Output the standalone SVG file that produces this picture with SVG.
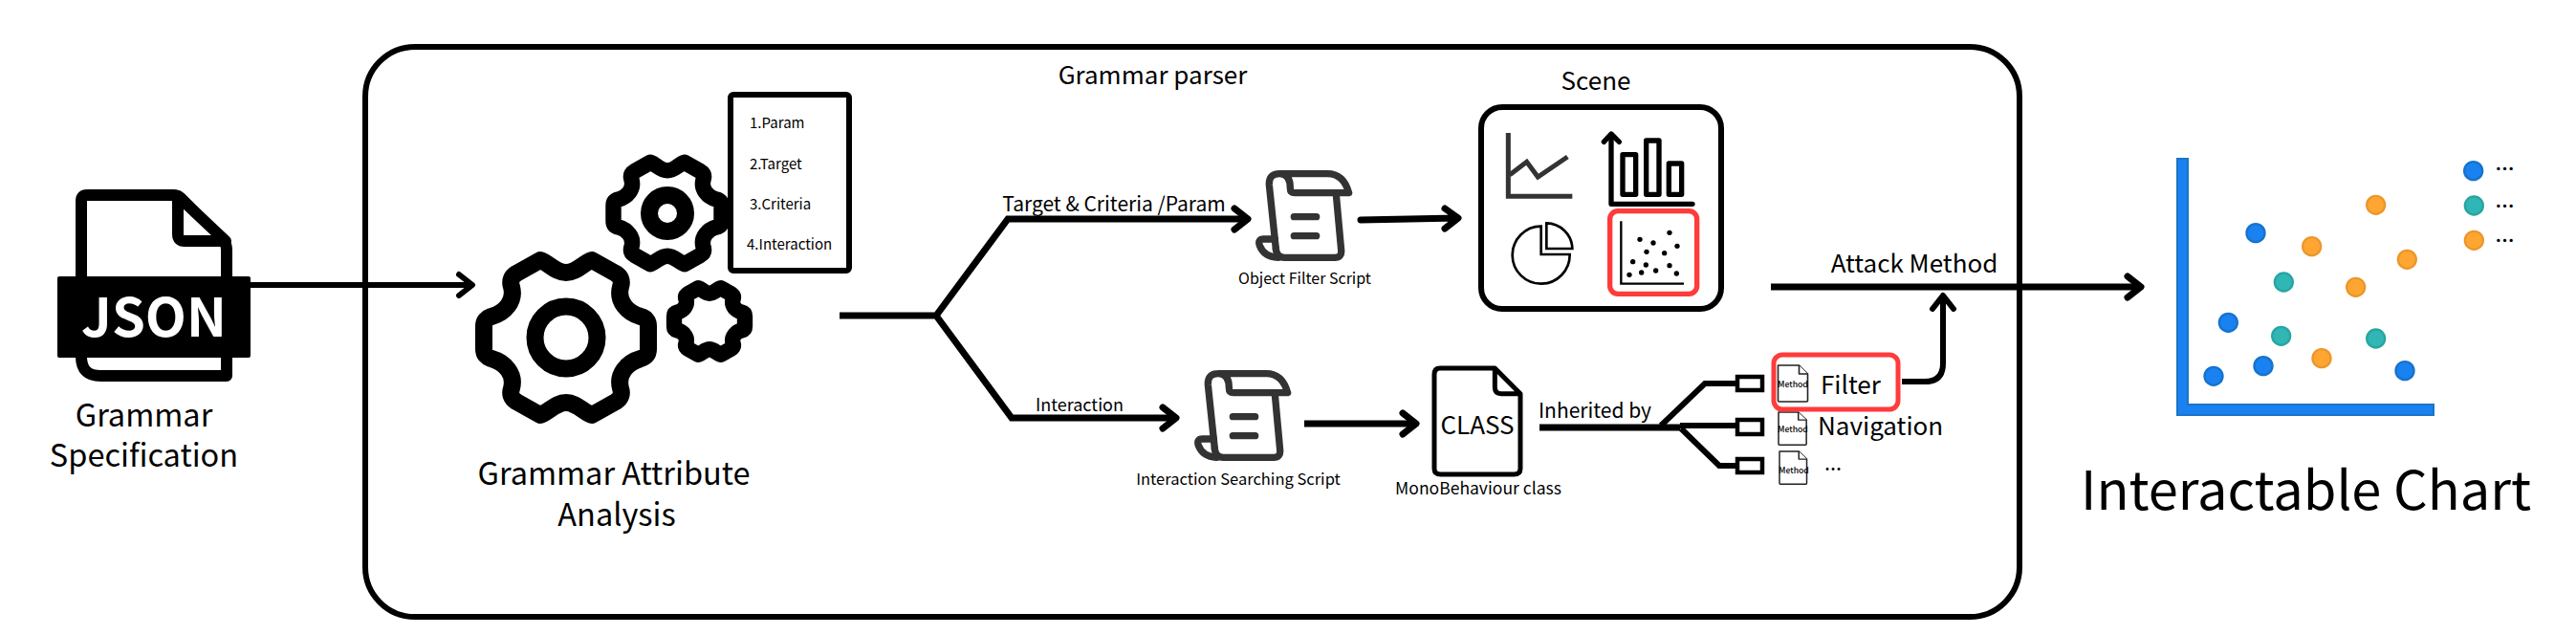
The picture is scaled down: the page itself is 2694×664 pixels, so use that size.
<svg xmlns="http://www.w3.org/2000/svg" xmlns:xlink="http://www.w3.org/1999/xlink" width="2694" height="664" viewBox="0 0 2694 664">
<style>
text{font-family:"Noto Sans CJK SC","Noto Sans",sans-serif;fill:#000}
.c{text-anchor:middle}
.ln{fill:none;stroke:#000;stroke-linecap:butt;stroke-linejoin:miter}
.head{fill:none;stroke:#000;stroke-linecap:round;stroke-linejoin:round}
.gear{fill:none;stroke:#000;stroke-linejoin:round}
.scr{fill:none;stroke:#333;stroke-width:22;stroke-linecap:round;stroke-linejoin:round}
.meth{fill:#fff;stroke:#222;stroke-width:1.6;stroke-linejoin:round}
.mt{font-size:8.600px;font-weight:500;text-anchor:middle}
.stub{fill:#fff;stroke:#000;stroke-width:4.500}
.red{fill:none;stroke:#ff3b3b}
.b{fill:#1a81f0;stroke:#1673cc}
.t{fill:#30b6b4;stroke:#28a5a0}
.o{fill:#ffa632;stroke:#ec962c}
</style>
<defs>
<path id="gearShape" d="M0,-68 C11,-68 18,-78 27,-81 L52,-67 Q60,-62 57,-53 C53,-38 64,-26 78,-22 Q86,-20 86,-12 L86,12 Q86,20 78,22 C64,26 53,38 57,53 Q60,62 52,67 L27,81 C18,78 11,68 0,68 C-11,68 -18,78 -27,81 L-52,67 Q-60,62 -57,53 C-53,38 -64,26 -78,22 Q-86,20 -86,12 L-86,-12 Q-86,-20 -78,-22 C-64,-26 -53,-38 -57,-53 Q-60,-62 -52,-67 L-27,-81 C-18,-78 -11,-68 0,-68Z"/>
<g id="scroll" class="scr">
<path d="M1003,600 L982,400 Q980,365 1015,365 L1165,365 Q1215,365 1232,425 L1062,425 Q1048,425 1048,410 Q1048,365 1015,365"/>
<path d="M1192,430 L1208,605 Q1210,628 1188,628 L1030,628 Q1005,628 1003,600"/>
<path d="M1000,570 L965,570 Q945,570 952,590 Q965,625 1010,628"/>
<path d="M1060,500 H1130 M1060,560 H1130"/>
</g>
<g id="method">
<path class="meth" d="M0,0 H22 L31,9 V37 Q31,38 30,38 H1 Q0,38 0,37Z"/>
<path class="meth" fill="none" d="M22,0 V9 H31"/>
</g>
</defs>
<rect width="2694" height="664" fill="#fff"/>
<g id="grammar-parser">
<rect x="382" y="49" width="1730" height="596" rx="52" fill="none" stroke="#000" stroke-width="6"/>
<text x="1205.500" y="88" class="c" font-size="26">Grammar parser</text>
</g>
<g id="connectors">
<path class="ln" stroke-width="6" d="M262,298 H493"/>
<path class="head" stroke-width="6" d="M480,287 L494,298 L480,309"/>
<path class="ln" stroke-width="7" d="M878,330 H979 L1054,229 H1304 M979,330 L1058,437 H1229"/>
<path class="head" stroke-width="7" d="M1291,218 L1305,229 L1291,240"/>
<path class="head" stroke-width="7" d="M1216,426 L1230,437 L1216,448"/>
<path class="head" stroke-width="7" d="M1423,230 L1524,228 M1511,218 L1525,228 L1511,239"/>
<path class="ln" stroke-width="7" d="M1364,443 H1480"/>
<path class="head" stroke-width="7" d="M1467,432 L1481,443 L1467,454"/>
<path class="ln" stroke-width="7" d="M1610,447 H1757"/>
<path class="ln" stroke-width="6" d="M1737,445 L1783,401 H1817 M1757,445 H1817 M1758,448 L1798,487 H1817"/>
<path class="ln" stroke-width="6" d="M1989,399 H2013 Q2032,399 2032,380 V312"/>
<path class="head" stroke-width="6" d="M2021,323 L2032,309 L2043,323"/>
<path class="ln" stroke-width="7" d="M1852,300 H2238"/>
<path class="head" stroke-width="7" d="M2225,289 L2239,300 L2225,311"/>
</g>
<g id="json-node">
<path d="M91,204 H181 Q186,204 189,207 L233,251 Q237,255 237,261 V393 H105 Q85,393 85,373 V210 Q85,204 91,204Z" fill="#fff" stroke="#000" stroke-width="12" stroke-linejoin="round"/>
<path d="M186,205 V245 Q186,252 193,252 H236 Z" fill="#fff" stroke="#000" stroke-width="12" stroke-linejoin="round"/>
<rect x="60" y="289" width="202" height="85" rx="2" fill="#000"/>
<text x="161" y="352" class="c" font-size="56" font-weight="700" style="fill:#fff">JSON</text>
<text x="150.500" y="446" class="c" font-size="32.500">Grammar</text>
<text x="150.500" y="488" class="c" font-size="32.500">Specification</text>
</g>
<g id="attribute-analysis">
<use xlink:href="#gearShape" href="#gearShape" transform="translate(592,353)" class="gear" stroke-width="18"/>
<circle cx="592" cy="353" r="32.500" fill="none" stroke="#000" stroke-width="18"/>
<use xlink:href="#gearShape" href="#gearShape" transform="translate(698,223) scale(.657)" class="gear" stroke-width="25"/>
<circle cx="698" cy="223" r="19" fill="none" stroke="#000" stroke-width="18"/>
<use xlink:href="#gearShape" href="#gearShape" transform="translate(742,336) scale(.43)" class="gear" stroke-width="38"/>
<text x="642" y="507" class="c" font-size="32.500">Grammar Attribute</text>
<text x="645" y="550" class="c" font-size="32.500">Analysis</text>
</g>
<g id="attribute-list">
<rect x="764" y="99" width="124" height="184" rx="3" fill="#fff" stroke="#000" stroke-width="6"/>
<text x="784" y="134" font-size="15">1.Param</text>
<text x="784" y="177" font-size="15">2.Target</text>
<text x="784" y="219" font-size="15">3.Criteria</text>
<text x="781" y="261" font-size="15">4.Interaction</text>
</g>
<g id="edge-labels">
<text x="1165" y="221" class="c" font-size="21">Target &amp; Criteria /Param</text>
<text x="1129" y="430" class="c" font-size="18">Interaction</text>
<text x="1668" y="437" class="c" font-size="21">Inherited by</text>
<text x="2002" y="285" class="c" font-size="26">Attack Method</text>
</g>
<g id="object-filter-script">
<use xlink:href="#scroll" href="#scroll" transform="translate(1000,60) scale(.33333)"/>
<text x="1364.500" y="297" class="c" font-size="16">Object Filter Script</text>
</g>
<g id="interaction-searching-script">
<use xlink:href="#scroll" href="#scroll" transform="translate(936,269) scale(.33333)"/>
<text x="1295" y="507" class="c" font-size="16.500">Interaction Searching Script</text>
</g>
<g id="scene">
<text x="1669" y="94" class="c" font-size="26">Scene</text>
<rect x="1549" y="112" width="251" height="211" rx="22" fill="#fff" stroke="#000" stroke-width="6"/>
<g transform="translate(1500,60) scale(.33333)">
<path d="M232,237 V436 H433" fill="none" stroke="#333" stroke-width="15"/>
<path d="M237,368 L290,328 L325,375 L418,312" fill="none" stroke="#333" stroke-width="15"/>
<g fill="none" stroke="#000" stroke-width="16" stroke-linejoin="round" stroke-linecap="round">
<path d="M555,245 V460 H810"/><path d="M532,265 L555,240 L580,265"/>
<rect x="591" y="305" width="41" height="125"/><rect x="665" y="261" width="40" height="169"/><rect x="736" y="333" width="40" height="97"/>
</g>
<g fill="none" stroke="#000" stroke-width="8">
<path d="M335,530 V618 H425 A90,90 0 1 1 335,530Z"/>
<path d="M352,520 V600 H433 A82,82 0 0 0 352,520Z"/>
</g>
<rect class="red" x="551" y="482" width="273" height="260" rx="25" stroke-width="16"/>
<path d="M586,514 V710 H783" fill="none" stroke="#000" stroke-width="7"/>
<g fill="#000"><circle cx="645" cy="571" r="8"/><circle cx="687" cy="582" r="8"/><circle cx="738" cy="550" r="8"/><circle cx="762" cy="592" r="8"/><circle cx="666" cy="610" r="8"/><circle cx="722" cy="614" r="8"/><circle cx="623" cy="641" r="8"/><circle cx="664" cy="651" r="8"/><circle cx="738" cy="653" r="8"/><circle cx="695" cy="669" r="8"/><circle cx="650" cy="675" r="8"/><circle cx="612" cy="682" r="8"/><circle cx="760" cy="678" r="8"/></g>
</g>
</g>
<g id="monobehaviour-class">
<path transform="translate(1160,360) scale(.33333)" d="M1038,75 H1210 L1290,155 V390 Q1290,408 1270,408 H1040 Q1020,408 1020,390 V95 Q1020,75 1038,75Z M1210,75 V135 Q1210,155 1230,155 H1290" fill="#fff" stroke="#000" stroke-width="15" stroke-linejoin="round"/>
<text x="1545" y="454" class="c" font-size="26">CLASS</text>
<text x="1546" y="517" class="c" font-size="17.500">MonoBehaviour class</text>
</g>
<g id="method-navigation">
<rect class="stub" x="1817" y="439" width="26" height="15"/>
<use xlink:href="#method" href="#method" transform="translate(1860,431) scale(.94,.9)"/>
<text x="1875" y="452" class="mt">Method</text>
<text x="1901" y="455" font-size="26">Navigation</text>
</g>
<g id="method-filter">
<rect class="stub" x="1817" y="394" width="26" height="14"/>
<use xlink:href="#method" href="#method" transform="translate(1859.500,382)"/>
<text x="1875" y="405" class="mt">Method</text>
<text x="1904" y="412" font-size="26">Filter</text>
<rect class="red" x="1855" y="371" width="130" height="57" rx="9" stroke-width="5"/>
</g>
<g id="method-more">
<rect class="stub" x="1817" y="480" width="26" height="14"/>
<use xlink:href="#method" href="#method" transform="translate(1861,472) scale(.92,.9)"/>
<text x="1876" y="495" class="mt">Method</text>
<text x="1917" y="497" class="c" font-size="18" font-weight="700">…</text>
</g>
<g id="interactable-chart">
<path d="M2277,166 H2288 V423 H2545 V434 H2277Z" fill="#1a81f0" stroke="#1b74c8" stroke-width="2"/>
<g transform="translate(2220,140) scale(.33333)">
<g class="b" stroke-width="7"><circle cx="417" cy="311" r="28.500"/><circle cx="331" cy="592" r="28.500"/><circle cx="285" cy="760" r="28.500"/><circle cx="441" cy="728" r="28.500"/><circle cx="885" cy="743" r="28.500"/><circle cx="1100" cy="116" r="28.500"/></g>
<g class="t" stroke-width="7"><circle cx="505" cy="465" r="28.500"/><circle cx="497" cy="634" r="28.500"/><circle cx="794" cy="642" r="28.500"/><circle cx="1102" cy="225" r="28.500"/></g>
<g class="o" stroke-width="7"><circle cx="794" cy="223" r="28.500"/><circle cx="593" cy="353" r="28.500"/><circle cx="892" cy="394" r="28.500"/><circle cx="731" cy="481" r="28.500"/><circle cx="624" cy="704" r="28.500"/><circle cx="1102" cy="334" r="28.500"/></g>
</g>
<text x="2619.500" y="184" class="c" font-size="20" font-weight="700">…</text>
<text x="2619.500" y="223" class="c" font-size="20" font-weight="700">…</text>
<text x="2619.500" y="259" class="c" font-size="20" font-weight="700">…</text>
<text x="2411.500" y="533" class="c" font-size="56">Interactable Chart</text>
</g>
</svg>
